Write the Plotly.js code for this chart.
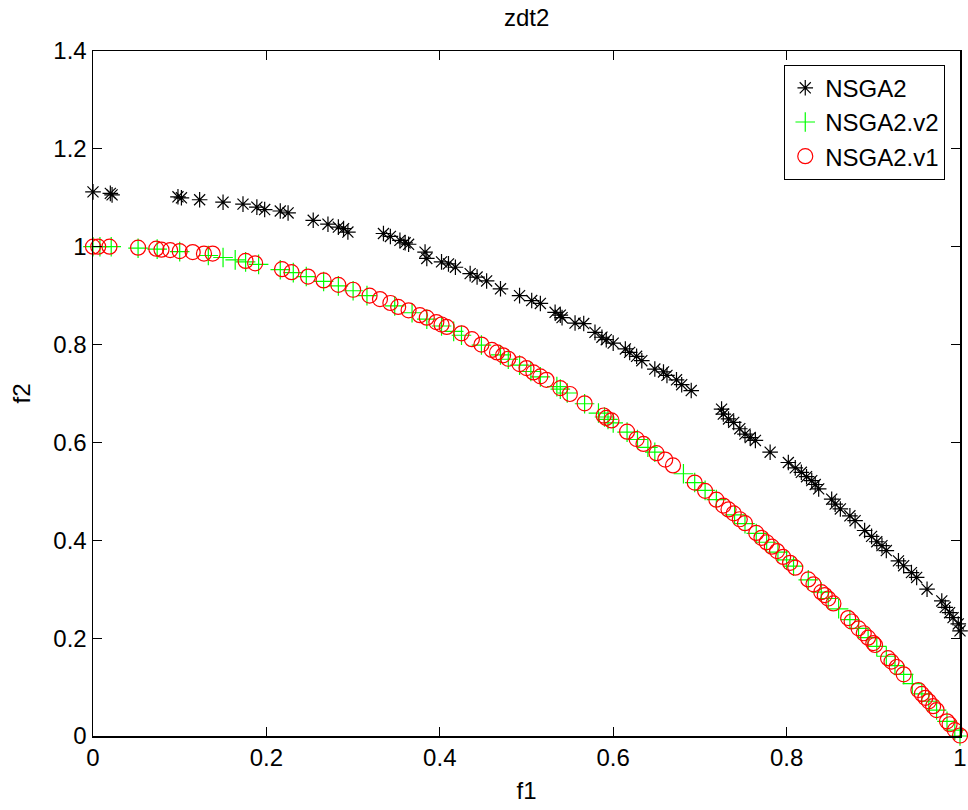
<!DOCTYPE html>
<html>
<head>
<meta charset="utf-8">
<script src="https://cdn.plot.ly/plotly-3.0.1.min.js"></script>
<style>html,body{margin:0;padding:0;background:#fff;}#chart{width:968px;height:810px;}</style>
</head>
<body>
<div id="chart"></div>
<script>
const seriesNames = ["NSGA2", "NSGA2.v2", "NSGA2.v1"];

const nsga2X = [0.000,0.020,0.022,0.098,0.102,0.123,0.150,0.173,0.189,0.198,0.216,0.225,0.254,0.271,0.283,0.289,0.294,0.335,0.343,0.354,0.360,0.364,0.383,0.385,0.402,0.410,0.418,0.435,0.443,0.454,0.470,0.492,0.506,0.516,0.533,0.539,0.541,0.556,0.566,0.579,0.587,0.592,0.600,0.614,0.619,0.627,0.633,0.648,0.658,0.662,0.673,0.679,0.690,0.725,0.727,0.733,0.739,0.746,0.752,0.758,0.764,0.781,0.802,0.810,0.817,0.823,0.829,0.833,0.837,0.852,0.856,0.862,0.873,0.879,0.890,0.898,0.904,0.910,0.915,0.929,0.935,0.944,0.950,0.962,0.979,0.983,0.988,0.992,0.998,1.000];
const nsga2Y = [1.112,1.109,1.106,1.102,1.100,1.096,1.091,1.087,1.081,1.076,1.073,1.069,1.054,1.046,1.040,1.037,1.030,1.027,1.021,1.013,1.008,1.005,0.989,0.976,0.969,0.965,0.958,0.945,0.938,0.930,0.914,0.900,0.890,0.884,0.866,0.860,0.855,0.844,0.843,0.825,0.815,0.810,0.803,0.791,0.784,0.776,0.767,0.750,0.744,0.737,0.728,0.718,0.706,0.668,0.658,0.648,0.641,0.628,0.617,0.610,0.604,0.580,0.559,0.548,0.539,0.530,0.522,0.514,0.505,0.484,0.474,0.464,0.450,0.440,0.420,0.408,0.397,0.389,0.379,0.358,0.348,0.334,0.324,0.300,0.276,0.263,0.252,0.242,0.229,0.215];

const v2X = [0.000,0.008,0.021,0.052,0.074,0.100,0.133,0.150,0.164,0.176,0.191,0.216,0.231,0.246,0.266,0.283,0.300,0.316,0.348,0.368,0.385,0.402,0.416,0.425,0.448,0.470,0.479,0.492,0.505,0.516,0.535,0.539,0.547,0.567,0.583,0.590,0.594,0.600,0.616,0.628,0.640,0.648,0.681,0.694,0.706,0.719,0.740,0.752,0.765,0.777,0.790,0.800,0.808,0.825,0.840,0.848,0.860,0.873,0.883,0.894,0.904,0.915,0.925,0.935,0.945,0.956,0.964,0.973,0.985,0.994,1.000];
const v2Y = [1.000,1.000,1.000,0.997,0.995,0.990,0.982,0.978,0.973,0.969,0.964,0.953,0.947,0.939,0.929,0.920,0.910,0.900,0.879,0.865,0.852,0.838,0.827,0.819,0.799,0.779,0.770,0.758,0.745,0.734,0.714,0.709,0.701,0.679,0.660,0.652,0.647,0.640,0.621,0.606,0.590,0.580,0.536,0.518,0.502,0.483,0.452,0.434,0.414,0.396,0.376,0.360,0.347,0.319,0.294,0.281,0.260,0.238,0.220,0.201,0.183,0.163,0.144,0.126,0.107,0.086,0.071,0.053,0.030,0.012,0.000];

const v1X = [0.000,0.006,0.019,0.052,0.073,0.079,0.089,0.100,0.115,0.128,0.138,0.176,0.187,0.218,0.229,0.248,0.266,0.283,0.300,0.319,0.331,0.343,0.352,0.364,0.377,0.385,0.396,0.402,0.408,0.425,0.437,0.448,0.460,0.466,0.473,0.479,0.492,0.500,0.508,0.516,0.523,0.539,0.550,0.567,0.589,0.592,0.598,0.616,0.627,0.635,0.650,0.660,0.669,0.694,0.706,0.719,0.727,0.733,0.739,0.746,0.752,0.765,0.771,0.777,0.783,0.789,0.796,0.804,0.810,0.825,0.831,0.840,0.844,0.848,0.854,0.871,0.875,0.883,0.889,0.894,0.900,0.902,0.917,0.921,0.927,0.935,0.952,0.956,0.960,0.964,0.969,0.973,0.985,0.988,0.994,1.000];
const v1Y = [1.000,1.000,1.000,0.998,0.996,0.994,0.993,0.991,0.989,0.986,0.986,0.971,0.966,0.954,0.948,0.939,0.931,0.922,0.912,0.900,0.893,0.885,0.877,0.870,0.860,0.855,0.846,0.841,0.836,0.823,0.811,0.800,0.789,0.784,0.778,0.771,0.760,0.752,0.743,0.735,0.728,0.711,0.699,0.680,0.655,0.650,0.645,0.622,0.607,0.597,0.578,0.565,0.553,0.518,0.501,0.483,0.471,0.463,0.455,0.443,0.435,0.415,0.405,0.396,0.387,0.378,0.366,0.354,0.344,0.320,0.310,0.294,0.288,0.281,0.271,0.241,0.234,0.220,0.210,0.201,0.190,0.186,0.159,0.152,0.141,0.126,0.094,0.086,0.078,0.071,0.061,0.053,0.030,0.024,0.012,0.001];

const xTicks = [0, 0.2, 0.4, 0.6, 0.8, 1];
const xTickText = ["0", "0.2", "0.4", "0.6", "0.8", "1"];
const yTicks = [0, 0.2, 0.4, 0.6, 0.8, 1, 1.2, 1.4];
const yTickText = ["0", "0.2", "0.4", "0.6", "0.8", "1", "1.2", "1.4"];

const FONT = "Liberation Sans, Arial, Helvetica, sans-serif";

const traces = [
  {x: nsga2X, y: nsga2Y, name: seriesNames[0], mode: "markers", type: "scatter",
   marker: {symbol: "asterisk-open", size: 13, color: "#000000", line: {color: "#000000", width: 1.2}}, cliponaxis: false},
  {x: v2X, y: v2Y, name: seriesNames[1], mode: "markers", type: "scatter",
   marker: {symbol: "cross-thin-open", size: 14, color: "#00ff00", line: {color: "#00ff00", width: 1.2}}, cliponaxis: false},
  {x: v1X, y: v1Y, name: seriesNames[2], mode: "markers", type: "scatter",
   marker: {symbol: "circle-open", size: 15, color: "#ff0000", line: {color: "#ff0000", width: 1.2}}, cliponaxis: false}
];

const axisCommon = {
  showgrid: false, zeroline: false, showline: true, linecolor: "#000", linewidth: 1.5,
  mirror: "ticks", ticks: "inside", ticklen: 9, tickwidth: 1, tickcolor: "#000",
  tickfont: {family: FONT, size: 24, color: "#000"}
};

const layout = {
  width: 968, height: 810,
  paper_bgcolor: "#fff", plot_bgcolor: "#fff",
  margin: {l: 93, r: 8, t: 51, b: 74, pad: 0},
  title: {text: "zdt2", font: {family: FONT, size: 24, color: "#000"}, x: 0.544, xanchor: "center", y: 0.978, yanchor: "middle"},
  xaxis: Object.assign({}, axisCommon, {range: [0, 1], tickvals: xTicks, ticktext: xTickText,
    title: {text: "f1", font: {family: FONT, size: 24, color: "#000"}, standoff: 12}}),
  yaxis: Object.assign({}, axisCommon, {range: [0, 1.4], tickvals: yTicks, ticktext: yTickText,
    title: {text: "f2", font: {family: FONT, size: 24, color: "#000"}, standoff: 16}}),
  showlegend: true,
  legend: {x: 0.983, y: 0.98, xanchor: "right", yanchor: "top", bgcolor: "#fff",
    bordercolor: "#000", borderwidth: 1, font: {family: FONT, size: 24, color: "#000"}}
};

Plotly.newPlot("chart", traces, layout, {displayModeBar: false, staticPlot: true});
</script>
</body>
</html>
